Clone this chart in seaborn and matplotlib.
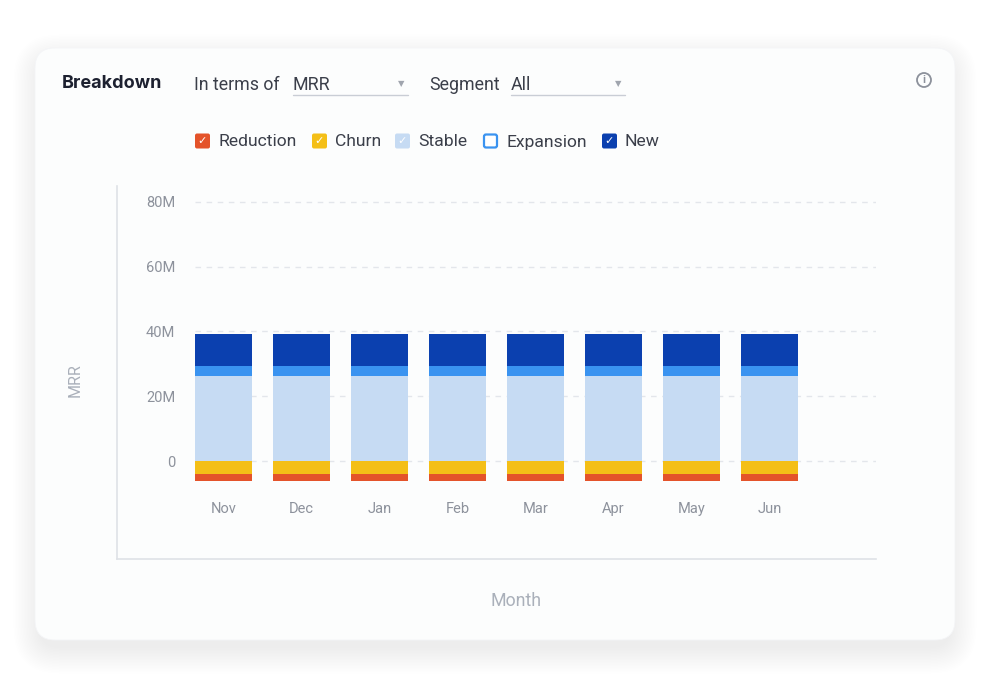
import matplotlib
matplotlib.use("Agg")
import matplotlib.pyplot as plt
from matplotlib.patches import FancyBboxPatch, Circle
from matplotlib.lines import Line2D
from matplotlib.transforms import IdentityTransform
import seaborn as sns

# data (values in millions)
months = ['Nov', 'Dec', 'Jan', 'Feb', 'Mar', 'Apr', 'May', 'Jun']
stable = [26.4, 26.4, 26.4, 26.4, 26.4, 26.4, 26.4, 26.4]
expansion = [3.1, 3.1, 3.1, 3.1, 3.1, 3.1, 3.1, 3.1]
new = [9.8, 9.8, 9.8, 9.8, 9.8, 9.8, 9.8, 9.8]
churn = [-3.8, -3.8, -3.8, -3.8, -3.8, -3.8, -3.8, -3.8]
reduction = [-2.3, -2.3, -2.3, -2.3, -2.3, -2.3, -2.3, -2.3]
y_ticks = [0, 20, 40, 60, 80]
y_tick_labels = ['0', '20M', '40M', '60M', '80M']
series_names = ['Reduction', 'Churn', 'Stable', 'Expansion', 'New']

colors = {'Reduction': '#E4532A', 'Churn': '#F4BF17', 'Stable': '#C6DBF3',
          'Expansion': '#3A93F0', 'New': '#0B40AF'}

sns.set_style("white")
plt.rcParams['font.family'] = ['Roboto', 'DejaVu Sans']

W, H = 1000, 695
fig = plt.figure(figsize=(10, 6.95), dpi=100)
fig.patch.set_facecolor('white')


def px(x, y):
    return x / W, 1 - y / H


# card with soft shadow (pixel coords)
idt = IdentityTransform()
cx0, cy0, cx1, cy1 = 35, 48, 955, 640
for i in range(18):
    g = 1.5 * i
    fig.patches.append(FancyBboxPatch(
        (cx0 - g + 4, H - cy1 - g - 8), (cx1 - cx0) + 2 * g - 8, (cy1 - cy0) + 2 * g - 4,
        boxstyle="round,pad=0,rounding_size=%f" % (20 + g),
        transform=idt, facecolor='#1c2540', alpha=0.0045, edgecolor='none', zorder=0))
fig.patches.append(FancyBboxPatch(
    (cx0, H - cy1), cx1 - cx0, cy1 - cy0,
    boxstyle="round,pad=0,rounding_size=20", transform=idt,
    facecolor='#fcfdfd', edgecolor='#f4f5f7', linewidth=0.6, zorder=1))

# axes
ax = fig.add_axes([117 / W, 1 - 559 / H, (876 - 117) / W, (559 - 186) / H])
ax.set_zorder(2)
ax.patch.set_alpha(0)

bw = 0.727
zeros = [0] * len(months)
bot_new = [s + e for s, e in zip(stable, expansion)]
layers = [(stable, zeros, 'Stable'), (expansion, stable, 'Expansion'),
          (new, bot_new, 'New'), (churn, zeros, 'Churn'), (reduction, churn, 'Reduction')]
for vals, bottom, name in layers:
    sns.barplot(x=months, y=vals, bottom=bottom, color=colors[name], saturation=1,
                width=bw, errorbar=None, linewidth=0, ax=ax, zorder=3)

ax.set_xlim(-1.36, 8.36)
ax.set_ylim(-30.1, 84.8)

# dashed gridlines
ax.hlines(y_ticks, -0.36, 8.36, colors='#e3e6eb', linestyles=(0, (4, 4)), linewidth=1, zorder=1)

ax.set_yticks(y_ticks)
ax.set_yticklabels(y_tick_labels)
ax.tick_params(axis='y', length=0, pad=-42, labelsize=10.5, labelcolor='#8d929c')
ax.tick_params(axis='x', length=0, pad=-41, labelsize=10.5, labelcolor='#8d929c')

for s in ['top', 'right']:
    ax.spines[s].set_visible(False)
for s in ['left', 'bottom']:
    ax.spines[s].set_color('#dfe2e7')
    ax.spines[s].set_linewidth(1.2)

ax.set_xlabel('')
ax.set_ylabel('')
fig.text(*px(75, 380), 'MRR', rotation=90, ha='center', va='center', fontsize=11.5, color='#aab0ba')
fig.text(*px(516, 601), 'Month', ha='center', va='center', fontsize=12.8, color='#aab0ba')

# header
fig.text(*px(62, 83), 'Breakdown', ha='left', va='center', fontsize=13,
         fontweight='bold', family=['Inter', 'DejaVu Sans'], color='#1d2130')
fig.text(*px(194, 85), 'In terms of', ha='left', va='center', fontsize=12.8, color='#3b3f4a')
fig.text(*px(293, 85), 'MRR', ha='left', va='center', fontsize=12.8, color='#3b3f4a')
fig.text(*px(429, 85), 'Segment', ha='left', va='center', fontsize=12.8, color='#3b3f4a')
fig.text(*px(511, 85), 'All', ha='left', va='center', fontsize=12.8, color='#3b3f4a')
for x0, x1 in [(293, 408), (511, 625)]:
    fig.lines.append(Line2D([x0 / W, x1 / W], [1 - 95 / H] * 2, transform=fig.transFigure,
                            color='#c9cdd5', linewidth=1))
for xa in [401, 618]:
    fig.text(*px(xa, 84), '▼', ha='center', va='center', fontsize=6, color='#a0a5ae',
             family=['DejaVu Sans'])

# info icon
fig.patches.append(Circle((924, H - 80), 7, transform=idt, facecolor='none',
                          edgecolor='#8c919b', linewidth=1.3, zorder=3))
fig.text(*px(924, 80), 'i', ha='center', va='center', fontsize=8, fontweight='bold', color='#8c919b')

# legend (checkbox style)
box_x = [195, 312, 395, 483, 602]
for name, bx in zip(series_names, box_x):
    c = colors[name]
    if name == 'Expansion':
        fig.patches.append(FancyBboxPatch((bx + 1, H - 141 - 6.5), 13, 13,
                                          boxstyle="round,pad=0,rounding_size=2", transform=idt,
                                          facecolor='white', edgecolor=c, linewidth=1.6, zorder=3))
    else:
        fig.patches.append(FancyBboxPatch((bx, H - 141 - 7.5), 15, 15,
                                          boxstyle="round,pad=0,rounding_size=2", transform=idt,
                                          facecolor=c, edgecolor='none', zorder=3))
        fig.text(*px(bx + 7.5, 141), '✓', ha='center', va='center', fontsize=8,
                 color='white', family=['DejaVu Sans'], zorder=4)
    fig.text(*px(bx + 23, 142), name, ha='left', va='center', fontsize=12.6, color='#3b3f4a')

fig.savefig('out.png', dpi=100, facecolor='white')
